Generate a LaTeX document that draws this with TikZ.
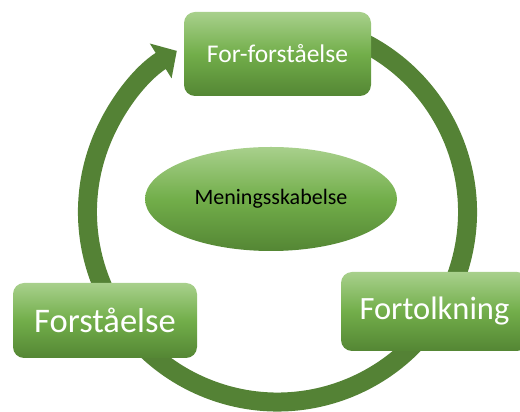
\documentclass[tikz,border=0pt]{standalone}
\usepackage{fontspec}
\setmainfont{Carlito}
\usetikzlibrary{arrows.meta,shapes.geometric}
\definecolor{ringgreen}{RGB}{84,130,53}
\definecolor{gtop}{RGB}{168,208,140}
\definecolor{gmid}{RGB}{114,174,74}
\definecolor{gbot}{RGB}{84,134,52}
\tikzset{
  box/.style={rectangle, rounded corners=11pt, top color=gtop, bottom color=gbot, middle color=gmid,
    draw=none, text=white, inner sep=0pt, align=center},
  oval/.style={ellipse, top color=gtop, bottom color=gbot, middle color=gmid, draw=none, text=black, inner sep=0pt},
  ringline/.style={draw=ringgreen, line width=19pt}
}
\begin{document}
\begin{tikzpicture}[x=1pt,y=1pt]
\useasboundingbox (0,0) rectangle (520,412);
\coordinate (c) at (277.5,200);
% cycle ring with arrow
\draw[ringline, -{Triangle[width=40pt,length=19pt]}] ([shift={(70:190)}]c) arc[start angle=70, end angle=-238, radius=190];
% boxes
\node[box, minimum width=187pt, minimum height=84pt, font=\fontsize{25.5}{30}\selectfont] (pre) at (277.5,358) {For-forståelse};
\node[box, minimum width=184pt, minimum height=75pt, font=\fontsize{34.5}{40}\selectfont] (und) at (105,91.5) {Forståelse};
\node[box, minimum width=187pt, minimum height=79pt, font=\fontsize{32.5}{38}\selectfont] (int) at (434.5,100.5) {Fortolkning};
\node[oval, minimum width=252pt, minimum height=104pt, font=\fontsize{22}{26}\selectfont] (mean) at (271,213) {Meningsskabelse};
\end{tikzpicture}
\end{document}
